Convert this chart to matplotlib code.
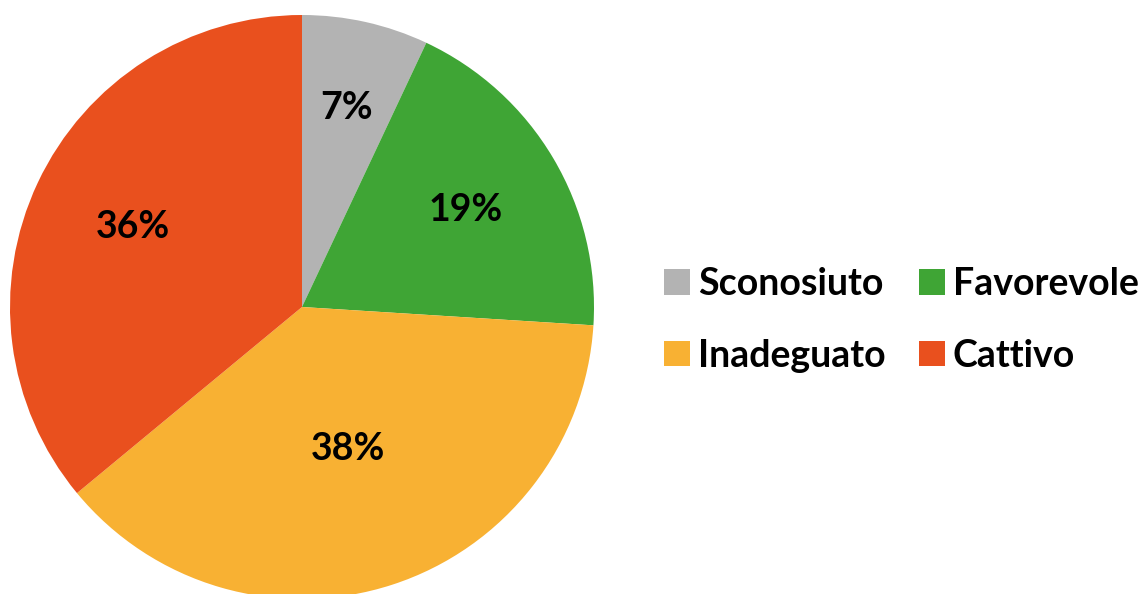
import numpy as np
import matplotlib
matplotlib.use("Agg")
import matplotlib.pyplot as plt

# Share of assessments by conservation status
categories = ["Sconosiuto", "Favorevole", "Inadeguato", "Cattivo"]
shares = [7, 19, 38, 36]
colors = ["#b3b3b3", "#3fa535", "#f8b133", "#e9501e"]
label_radius = [0.70, 0.65, 0.51, 0.64]

plt.rcParams["font.family"] = ["Lato", "DejaVu Sans"]

W, H = 1146, 594
fig = plt.figure(figsize=(W / 100, H / 100), dpi=100)

cx, cy, R = 302, 307, 292
ax = fig.add_axes([(cx - R) / W, (H - cy - R) / H, 2 * R / W, 2 * R / H])
wedges, _ = ax.pie(shares, colors=colors, startangle=90, counterclock=False,
                   radius=1, wedgeprops=dict(linewidth=0))
ax.set_xlim(-1, 1)
ax.set_ylim(-1, 1)
ax.set_aspect("equal")
ax.axis("off")

for w, val, rf in zip(wedges, shares, label_radius):
    theta = np.deg2rad((w.theta1 + w.theta2) / 2)
    ax.text(rf * np.cos(theta), rf * np.sin(theta), f"{val}%",
            ha="center", va="center", fontsize=27, fontweight="bold",
            color="black")

# legend laid out row by row: two entries per row
order = [0, 2, 1, 3]
leg = fig.legend([wedges[i] for i in order], [categories[i] for i in order],
                 ncol=2, loc="center left",
                 bbox_to_anchor=(664 / W, 1 - 320 / H), frameon=False,
                 borderpad=0, borderaxespad=0,
                 prop=dict(size=27, weight="bold"),
                 handlelength=0.68, handleheight=0.68, handletextpad=0.22,
                 columnspacing=0.9, labelspacing=1.0)

fig.savefig("out.png", dpi=100)
